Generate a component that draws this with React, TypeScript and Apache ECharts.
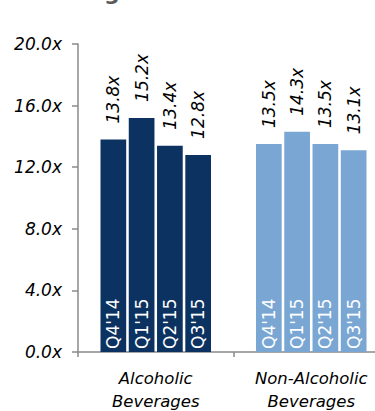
import React, { useEffect, useRef } from "react";
import * as echarts from "echarts";

const categories = ["Alcoholic\nBeverages", "Non-Alcoholic\nBeverages"];
const quarters = ["Q4'14", "Q1'15", "Q2'15", "Q3'15"];
const q414 = [13.8, 13.5];
const q115 = [15.2, 14.3];
const q215 = [13.4, 13.5];
const q315 = [12.8, 13.1];
const seriesValues = [q414, q115, q215, q315];
const groupColors = ["#0B3260", "#7AA6D4"];

const FONT = "DejaVu Sans";

export default function App() {
  const ref = useRef<HTMLDivElement>(null);
  useEffect(() => {
    if (!ref.current) return;
    const chart = echarts.init(ref.current, null, { renderer: "svg" });
    const barWidth = 25.7;
    const barGap = "10%";
    const visible = quarters.map((q, i) => ({
      name: q,
      type: "bar",
      xAxisIndex: 0,
      barWidth,
      barGap,
      data: seriesValues[i].map((v, j) => ({ value: v, itemStyle: { color: groupColors[j] } })),
      label: {
        show: true,
        position: "top",
        distance: 16,
        rotate: 90,
        align: "left",
        verticalAlign: "middle",
        formatter: (p: any) => Number(p.value).toFixed(1) + "x",
        fontFamily: FONT,
        fontStyle: "italic",
        fontSize: 17,
        color: "#000",
      },
    }));
    const inner = quarters.map((q, i) => ({
      name: q + " ",
      type: "bar",
      xAxisIndex: 1,
      barWidth,
      barGap,
      z: 3,
      data: seriesValues[i].map((v) => ({ value: v, itemStyle: { color: "rgba(0,0,0,0)" } })),
      label: {
        show: true,
        position: "insideBottom",
        distance: 3,
        rotate: 90,
        align: "left",
        verticalAlign: "middle",
        formatter: () => q,
        fontFamily: FONT,
        fontSize: 17,
        color: "#fff",
      },
    }));
    chart.setOption({
      animation: false,
      grid: { left: 78, right: -14, top: 44, bottom: 59, containLabel: false, outerBoundsMode: "none" },
      xAxis: [
        {
          type: "category",
          data: categories,
          axisLine: { lineStyle: { color: "#8a8a8a", width: 1.5 } },
          axisTick: { show: true, alignWithLabel: false, length: 5, lineStyle: { color: "#8a8a8a", width: 1.5 } },
          axisLabel: {
            fontFamily: FONT,
            fontStyle: "italic",
            fontSize: 16.5,
            lineHeight: 23,
            color: "#000",
            margin: 15,
            interval: 0,
          },
        },
        { type: "category", data: categories, show: false },
      ],
      yAxis: {
        type: "value",
        min: 0,
        max: 20,
        interval: 4,
        splitLine: { show: false },
        axisLine: { show: true, lineStyle: { color: "#8a8a8a", width: 1.5 } },
        axisTick: { show: true, length: 6, lineStyle: { color: "#8a8a8a", width: 1.5 } },
        axisLabel: {
          fontFamily: FONT,
          fontStyle: "italic",
          fontSize: 17,
          color: "#000",
          margin: 16,
          formatter: (v: number) => v.toFixed(1) + "x",
        },
      },
      graphic: [
        {
          type: "text",
          x: 104,
          y: 3,
          style: {
            text: "g",
            fontFamily: FONT,
            fontWeight: "bold",
            fontSize: 22,
            fill: "#5a5a5a",
            verticalAlign: "bottom",
          },
        },
      ],
      series: [...visible, ...inner],
    });
    return () => chart.dispose();
  }, []);
  return <div ref={ref} style={{ position: "absolute", left: 0, top: 0, width: 375, height: 411 }} />;
}
